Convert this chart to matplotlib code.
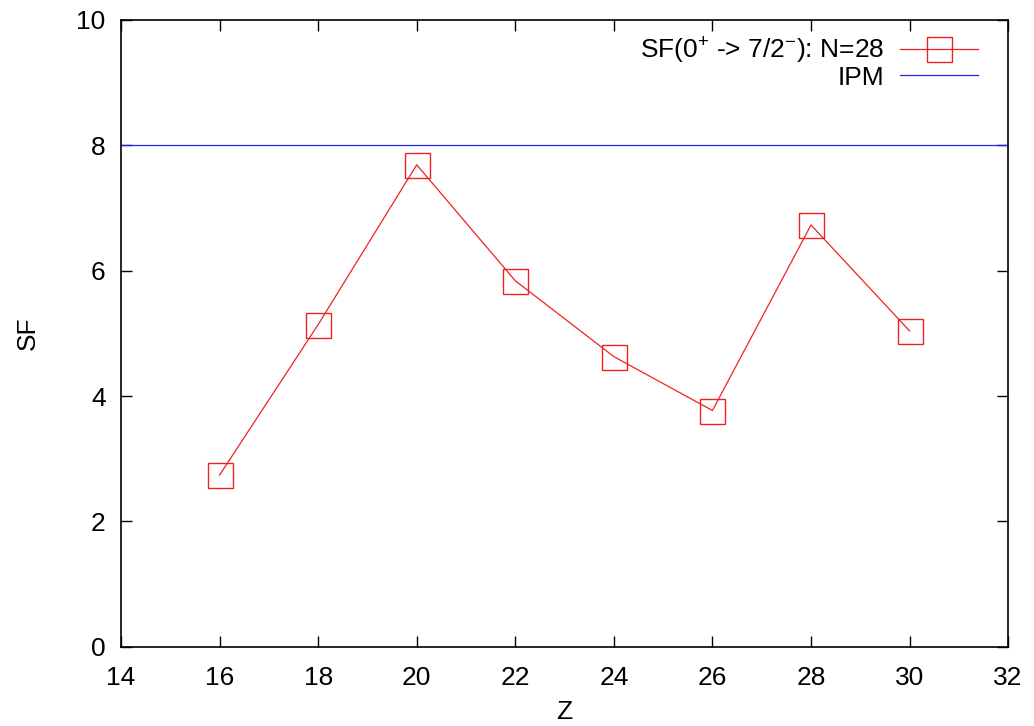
import matplotlib
matplotlib.use("Agg")
import matplotlib.pyplot as plt

plt.rcParams['font.family'] = ['Liberation Sans', 'DejaVu Sans']
plt.rcParams['mathtext.fontset'] = 'custom'
plt.rcParams['mathtext.rm'] = 'Liberation Sans'
plt.rcParams['mathtext.it'] = 'Liberation Sans'

# spectroscopic factors along N=28
z = [16, 18, 20, 22, 24, 26, 28, 30]
sf = [2.74, 5.14, 7.69, 5.84, 4.63, 3.77, 6.73, 5.04]
ipm = 8.0

x_ticks = [14, 16, 18, 20, 22, 24, 26, 28, 30, 32]
y_ticks = [0, 2, 4, 6, 8, 10]

fig = plt.figure(figsize=(10.34, 7.26), dpi=100)
ax = fig.add_axes([0.117, 0.109, 0.858, 0.8635])

ax.plot(z, sf, color='#ee2222', lw=0.9, marker='s', markersize=18,
        markerfacecolor='none', markeredgecolor='#ee2222', markeredgewidth=1.0,
        label=r'SF(0$^{+}$ -> 7/2$^{-}$): N=28')
ax.axhline(ipm, color='#2222ee', lw=0.9, label='IPM')

ax.set_xlim(14, 32)
ax.set_ylim(0, 10)
ax.set_xticks(x_ticks)
ax.set_yticks(y_ticks)
ax.tick_params(direction='in', top=True, right=True, length=8, width=1.0,
               labelsize=19)
ax.tick_params(axis='x', pad=14)
ax.tick_params(axis='y', pad=11)
for s in ax.spines.values():
    s.set_linewidth(1.2)

ax.set_xlabel('Z', fontsize=19, labelpad=7)
ax.set_ylabel('SF', fontsize=19, labelpad=26)

ax.legend(loc='upper right', bbox_to_anchor=(0.987, 1.005), frameon=False,
          markerfirst=False, fontsize=19, handlelength=2.95,
          handletextpad=0.6, labelspacing=0.0, borderaxespad=0.3)

fig.savefig('out.png', dpi=100)
